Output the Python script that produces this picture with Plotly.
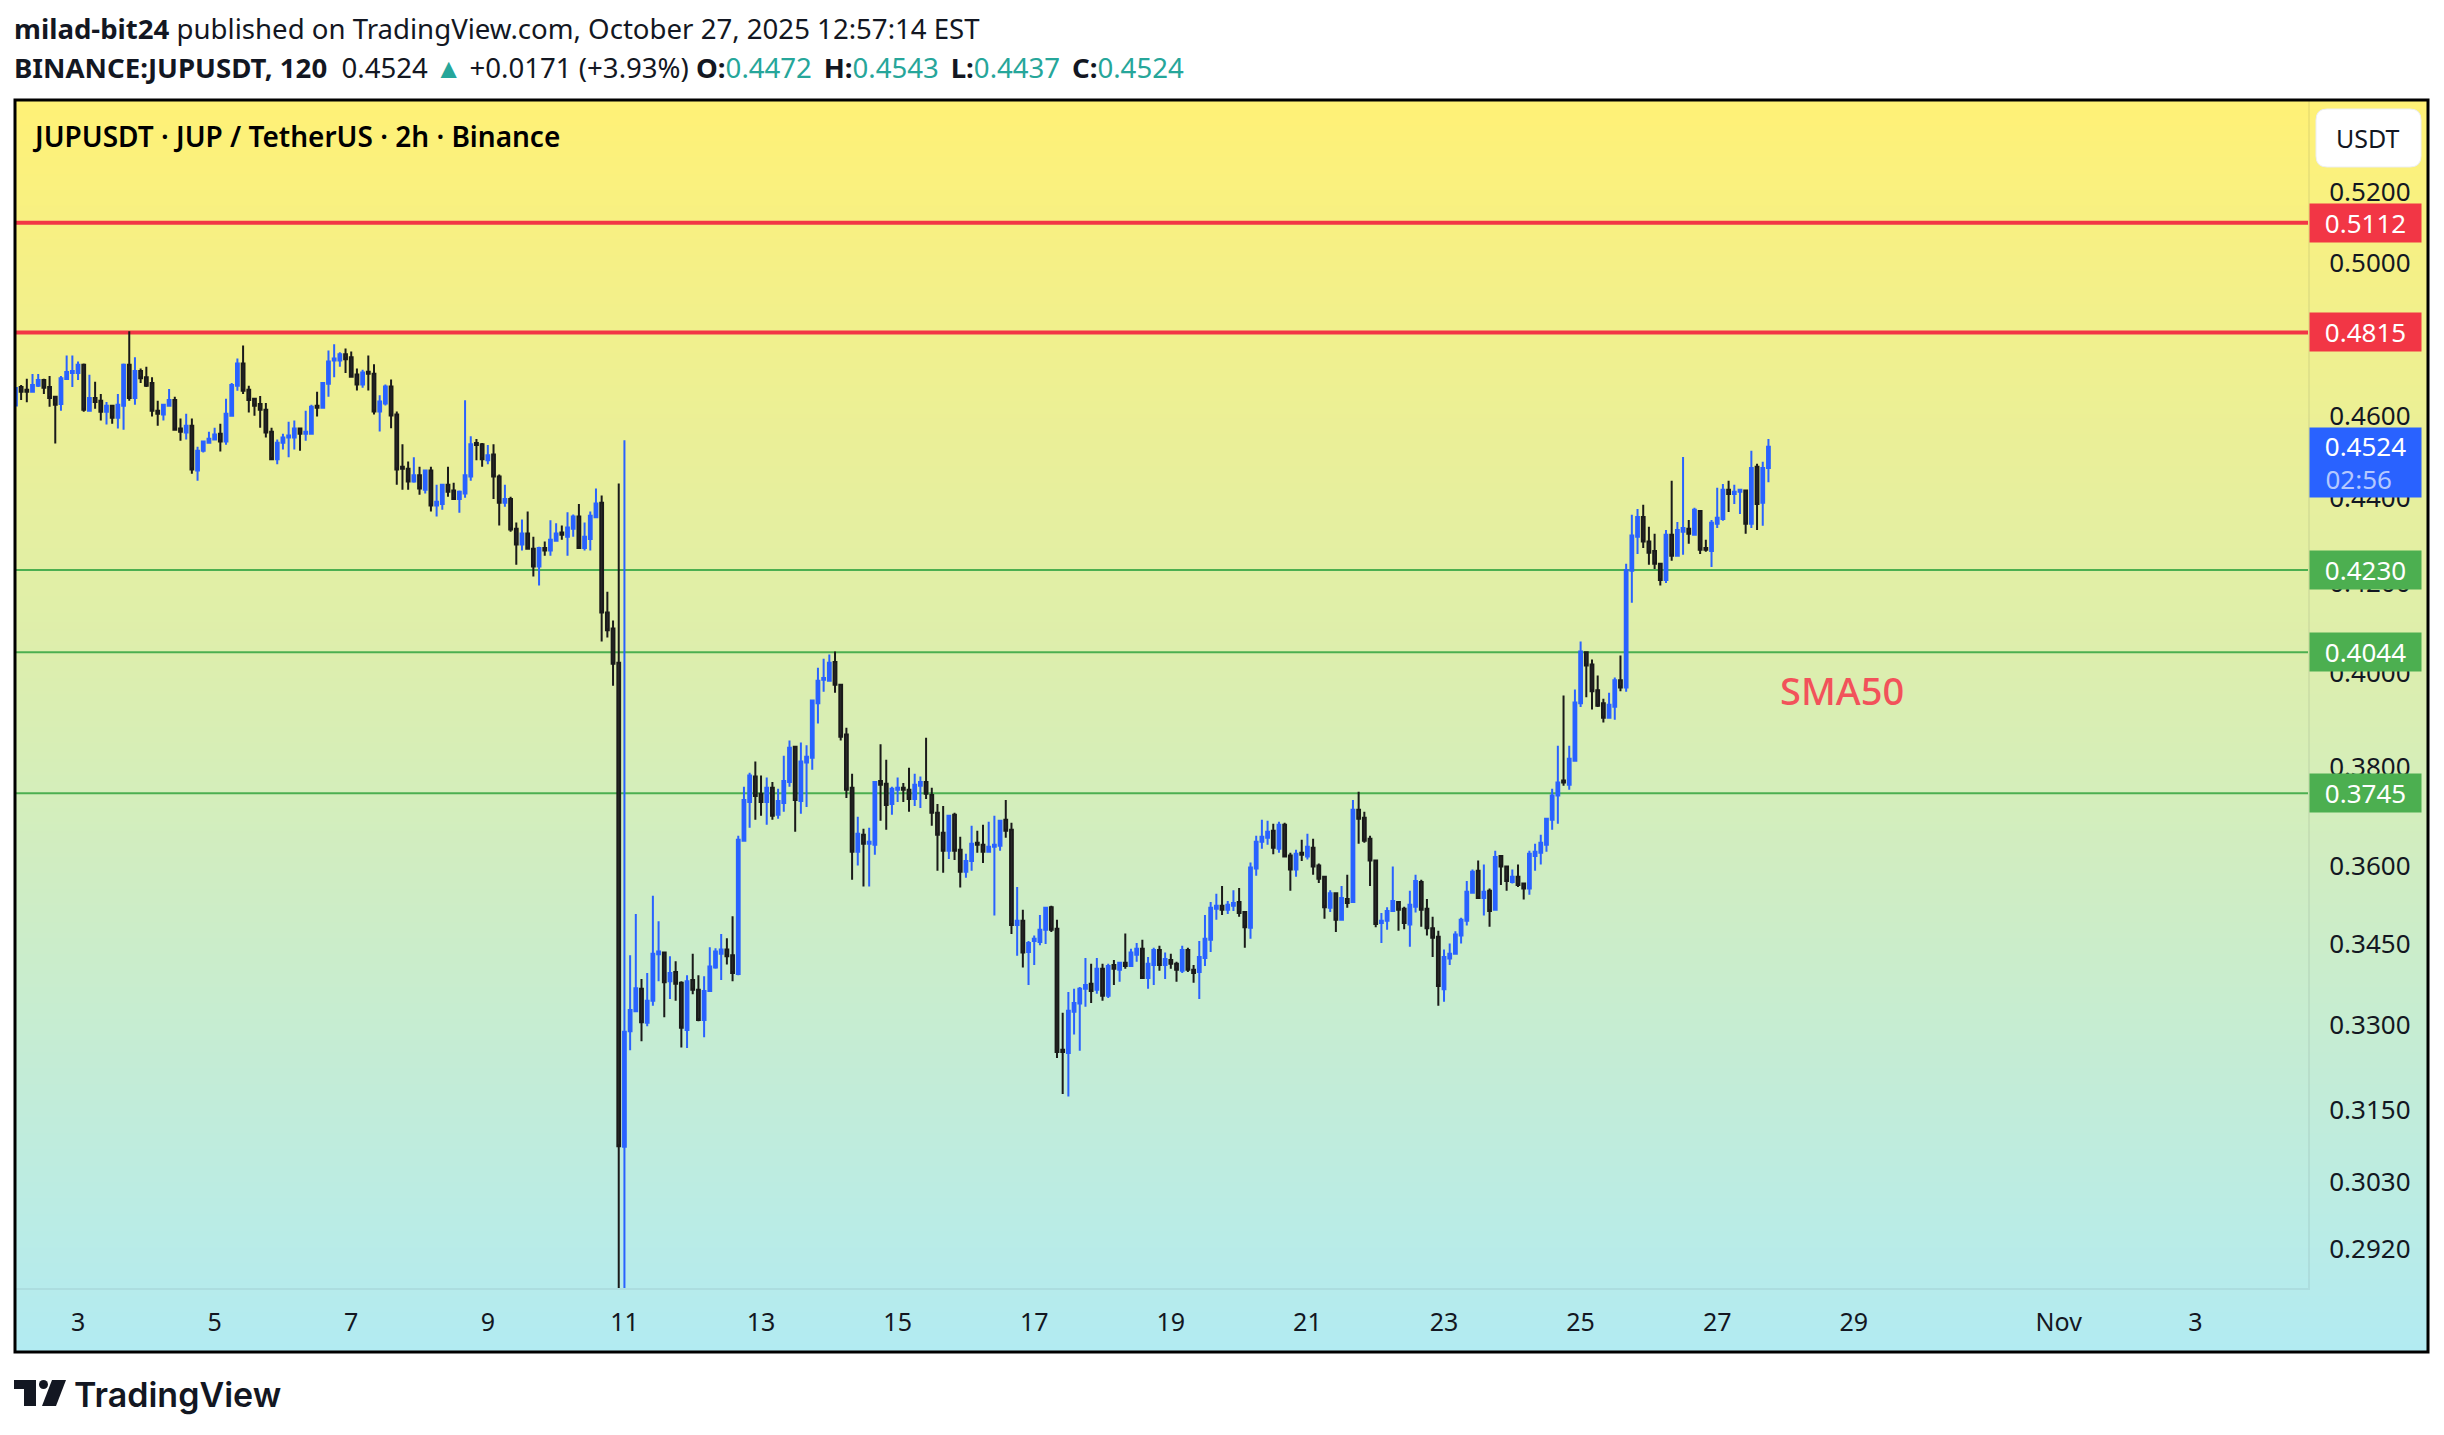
import math

import numpy as np
import pandas as pd
import plotly.graph_objects as go

# 2h bars, prices in 1/10000 USDT
opens = [
    4627, 4674, 4667, 4662, 4677, 4692, 4674, 4649, 4631, 4694,
    4710, 4710, 4731, 4614, 4646, 4639, 4611, 4626, 4596, 4626,
    4731, 4646, 4715, 4699, 4684, 4614, 4604, 4626, 4641, 4569,
    4559, 4576, 4466, 4514, 4534, 4542, 4556, 4537, 4601, 4677,
    4734, 4667, 4644, 4631, 4616, 4561, 4493, 4534, 4547, 4547,
    4569, 4556, 4556, 4626, 4621, 4682, 4742, 4742, 4758, 4750,
    4706, 4680, 4713, 4708, 4612, 4632, 4675, 4604, 4475, 4470,
    4439, 4454, 4419, 4466, 4381, 4385, 4431, 4417, 4397, 4410,
    4451, 4533, 4530, 4491, 4505, 4451, 4388, 4397, 4326, 4289,
    4315, 4279, 4238, 4281, 4275, 4298, 4317, 4307, 4326, 4355,
    4281, 4302, 4353, 4388, 4133, 4097, 4021, 3088, 3289, 3325,
    3366, 3304, 3344, 3430, 3433, 3380, 3397, 3377, 3291, 3382,
    3364, 3309, 3362, 3405, 3431, 3439, 3428, 3393, 3649, 3727,
    3779, 3744, 3727, 3756, 3701, 3725, 3768, 3841, 3729, 3808,
    3818, 3933, 3984, 3982, 4023, 3973, 3867, 3756, 3627, 3661,
    3643, 3641, 3770, 3764, 3723, 3752, 3756, 3752, 3733, 3760,
    3768, 3741, 3705, 3665, 3629, 3701, 3631, 3588, 3609, 3645,
    3641, 3627, 3637, 3639, 3691, 3671, 3485, 3493, 3434, 3455,
    3453, 3476, 3519, 3478, 3256, 3250, 3324, 3339, 3366, 3375,
    3364, 3403, 3353, 3410, 3401, 3414, 3408, 3429, 3440, 3386,
    3410, 3438, 3410, 3419, 3412, 3399, 3438, 3401, 3397, 3423,
    3457, 3516, 3522, 3514, 3522, 3529, 3510, 3480, 3594, 3647,
    3655, 3669, 3633, 3681, 3620, 3592, 3625, 3618, 3635, 3600,
    3578, 3518, 3546, 3495, 3535, 3529, 3711, 3695, 3653, 3610,
    3489, 3493, 3512, 3529, 3516, 3486, 3520, 3568, 3516, 3479,
    3463, 3365, 3422, 3431, 3465, 3493, 3547, 3590, 3537, 3551,
    3514, 3619, 3598, 3568, 3578, 3565, 3555, 3619, 3625, 3641,
    3691, 3740, 3771, 3762, 3812, 3933, 4044, 4017, 3961, 3933,
    3902, 3926, 3983, 3967, 4228, 4307, 4354, 4296, 4274, 4244,
    4207, 4312, 4263, 4319, 4326, 4312, 4368, 4281, 4274, 4338,
    4349, 4419, 4409, 4414, 4417, 4338, 4475, 4388, 4472,
]
highs = [
    4671, 4679, 4695, 4707, 4707, 4695, 4702, 4651, 4702, 4755,
    4755, 4739, 4734, 4705, 4687, 4656, 4636, 4626, 4656, 4734,
    4818, 4750, 4721, 4726, 4699, 4639, 4631, 4669, 4649, 4594,
    4606, 4594, 4524, 4539, 4561, 4571, 4581, 4644, 4684, 4747,
    4781, 4677, 4644, 4651, 4633, 4571, 4542, 4556, 4586, 4589,
    4571, 4614, 4629, 4662, 4684, 4768, 4784, 4763, 4773, 4765,
    4721, 4718, 4755, 4732, 4653, 4680, 4693, 4612, 4530, 4488,
    4498, 4475, 4468, 4475, 4431, 4431, 4475, 4436, 4417, 4640,
    4550, 4543, 4533, 4528, 4530, 4456, 4431, 4402, 4341, 4348,
    4367, 4307, 4284, 4296, 4346, 4339, 4334, 4365, 4360, 4385,
    4341, 4367, 4422, 4405, 4180, 4115, 4434, 4540, 3428, 3506,
    3384, 3395, 3541, 3492, 3435, 3426, 3417, 3380, 3391, 3431,
    3391, 3389, 3443, 3441, 3468, 3460, 3502, 3659, 3758, 3787,
    3810, 3781, 3777, 3768, 3754, 3822, 3854, 3841, 3850, 3844,
    3941, 4010, 4030, 4039, 4046, 3975, 3881, 3785, 3697, 3673,
    3675, 3770, 3846, 3814, 3758, 3777, 3766, 3797, 3785, 3779,
    3860, 3756, 3723, 3719, 3701, 3705, 3657, 3623, 3679, 3669,
    3681, 3687, 3699, 3691, 3731, 3685, 3558, 3514, 3455, 3465,
    3504, 3519, 3522, 3495, 3322, 3360, 3366, 3369, 3423, 3412,
    3423, 3412, 3412, 3419, 3414, 3469, 3440, 3451, 3457, 3425,
    3442, 3446, 3433, 3431, 3416, 3446, 3442, 3410, 3455, 3504,
    3529, 3545, 3560, 3531, 3552, 3556, 3510, 3606, 3659, 3691,
    3689, 3683, 3687, 3685, 3625, 3631, 3651, 3663, 3653, 3604,
    3580, 3552, 3546, 3560, 3582, 3731, 3748, 3707, 3659, 3610,
    3508, 3519, 3598, 3529, 3520, 3551, 3582, 3572, 3535, 3501,
    3474, 3439, 3450, 3473, 3499, 3570, 3592, 3610, 3602, 3555,
    3629, 3619, 3600, 3592, 3602, 3566, 3629, 3643, 3661, 3695,
    3754, 3843, 3950, 3843, 3963, 4068, 4046, 4028, 3993, 3943,
    3956, 3989, 4037, 4244, 4359, 4373, 4383, 4331, 4314, 4244,
    4323, 4441, 4342, 4499, 4347, 4376, 4368, 4300, 4347, 4424,
    4433, 4441, 4431, 4421, 4419, 4514, 4482, 4487, 4543,
]
lows = [
    4627, 4641, 4635, 4662, 4674, 4656, 4624, 4532, 4614, 4694,
    4674, 4692, 4611, 4614, 4619, 4589, 4579, 4581, 4569, 4566,
    4639, 4629, 4684, 4674, 4599, 4576, 4589, 4626, 4564, 4539,
    4542, 4458, 4441, 4510, 4534, 4542, 4512, 4529, 4599, 4664,
    4656, 4609, 4601, 4571, 4547, 4493, 4481, 4517, 4498, 4517,
    4514, 4539, 4556, 4599, 4621, 4649, 4699, 4726, 4710, 4700,
    4665, 4672, 4665, 4604, 4562, 4627, 4570, 4431, 4419, 4419,
    4436, 4407, 4410, 4367, 4355, 4371, 4402, 4395, 4364, 4400,
    4441, 4491, 4475, 4481, 4397, 4334, 4378, 4319, 4242, 4275,
    4277, 4215, 4194, 4263, 4263, 4298, 4300, 4263, 4307, 4281,
    4275, 4275, 4353, 4068, 4077, 3971, 2850, 2850, 3255, 3325,
    3271, 3298, 3335, 3380, 3314, 3347, 3344, 3260, 3259, 3356,
    3307, 3278, 3362, 3403, 3382, 3411, 3380, 3391, 3649, 3675,
    3691, 3699, 3681, 3691, 3693, 3707, 3758, 3667, 3703, 3717,
    3793, 3890, 3958, 3982, 3956, 3854, 3735, 3572, 3600, 3559,
    3559, 3621, 3689, 3671, 3701, 3727, 3727, 3707, 3719, 3715,
    3733, 3679, 3590, 3586, 3613, 3611, 3557, 3576, 3590, 3625,
    3605, 3625, 3503, 3629, 3655, 3468, 3427, 3405, 3373, 3410,
    3447, 3449, 3472, 3241, 3178, 3174, 3283, 3254, 3333, 3340,
    3357, 3344, 3349, 3373, 3379, 3403, 3406, 3416, 3384, 3366,
    3373, 3399, 3384, 3403, 3379, 3395, 3397, 3377, 3347, 3408,
    3434, 3495, 3504, 3506, 3512, 3501, 3442, 3459, 3580, 3633,
    3641, 3622, 3625, 3618, 3551, 3578, 3609, 3612, 3582, 3566,
    3497, 3510, 3472, 3495, 3518, 3529, 3643, 3645, 3560, 3481,
    3451, 3476, 3512, 3474, 3477, 3444, 3509, 3482, 3465, 3425,
    3335, 3342, 3410, 3431, 3450, 3484, 3547, 3537, 3503, 3482,
    3514, 3562, 3551, 3565, 3558, 3534, 3543, 3590, 3602, 3627,
    3671, 3683, 3760, 3752, 3812, 3925, 3946, 3920, 3925, 3892,
    3902, 3898, 3959, 3958, 4155, 4267, 4281, 4242, 4232, 4194,
    4200, 4251, 4263, 4265, 4291, 4312, 4267, 4272, 4237, 4328,
    4345, 4366, 4385, 4361, 4314, 4328, 4323, 4333, 4437,
]
closes = [
    4671, 4662, 4662, 4679, 4692, 4672, 4646, 4629, 4696, 4712,
    4715, 4731, 4616, 4646, 4636, 4611, 4626, 4596, 4629, 4731,
    4646, 4715, 4696, 4677, 4614, 4606, 4629, 4641, 4566, 4561,
    4576, 4468, 4514, 4537, 4544, 4554, 4537, 4606, 4679, 4734,
    4664, 4641, 4626, 4616, 4559, 4493, 4534, 4547, 4552, 4569,
    4556, 4561, 4624, 4621, 4684, 4739, 4747, 4758, 4745, 4700,
    4680, 4711, 4708, 4612, 4637, 4675, 4602, 4468, 4470, 4439,
    4454, 4422, 4466, 4381, 4390, 4431, 4414, 4397, 4414, 4454,
    4530, 4528, 4493, 4503, 4451, 4388, 4397, 4324, 4289, 4315,
    4279, 4238, 4281, 4275, 4300, 4315, 4312, 4329, 4355, 4281,
    4307, 4357, 4386, 4133, 4093, 4019, 3089, 3288, 3327, 3367,
    3305, 3344, 3431, 3435, 3378, 3395, 3375, 3295, 3380, 3364,
    3309, 3362, 3407, 3435, 3439, 3426, 3395, 3651, 3731, 3781,
    3739, 3727, 3756, 3699, 3729, 3770, 3839, 3731, 3810, 3820,
    3939, 3982, 3988, 4021, 3973, 3862, 3752, 3627, 3663, 3643,
    3647, 3768, 3762, 3721, 3754, 3756, 3752, 3733, 3762, 3768,
    3744, 3705, 3661, 3629, 3699, 3629, 3588, 3609, 3643, 3641,
    3627, 3637, 3641, 3689, 3669, 3485, 3493, 3433, 3451, 3459,
    3476, 3518, 3476, 3252, 3252, 3326, 3340, 3366, 3373, 3362,
    3403, 3353, 3408, 3403, 3414, 3408, 3433, 3440, 3386, 3412,
    3438, 3410, 3421, 3412, 3401, 3438, 3401, 3395, 3425, 3459,
    3518, 3522, 3514, 3524, 3527, 3508, 3481, 3596, 3647, 3657,
    3667, 3635, 3681, 3618, 3592, 3623, 3621, 3637, 3598, 3574,
    3519, 3546, 3495, 3537, 3527, 3711, 3693, 3649, 3610, 3487,
    3493, 3512, 3531, 3514, 3489, 3524, 3570, 3514, 3479, 3461,
    3371, 3425, 3431, 3467, 3495, 3549, 3588, 3537, 3549, 3512,
    3617, 3598, 3570, 3578, 3562, 3555, 3623, 3627, 3645, 3693,
    3740, 3767, 3767, 3816, 3935, 4046, 4015, 3959, 3928, 3902,
    3930, 3983, 3967, 4230, 4310, 4354, 4296, 4270, 4244, 4207,
    4312, 4263, 4323, 4328, 4314, 4371, 4277, 4277, 4340, 4352,
    4419, 4409, 4414, 4419, 4338, 4472, 4385, 4472, 4524,
]

price_ticks = [0.52, 0.50, 0.46, 0.44, 0.42, 0.40, 0.38, 0.36, 0.345, 0.33, 0.315, 0.303, 0.292]
price_labels = ["0.5200", "0.5000", "0.4600", "0.4400", "0.4200", "0.4000", "0.3800",
                "0.3600", "0.3450", "0.3300", "0.3150", "0.3030", "0.2920"]
date_ticks = ["2025-10-03", "2025-10-05", "2025-10-07", "2025-10-09", "2025-10-11", "2025-10-13",
              "2025-10-15", "2025-10-17", "2025-10-19", "2025-10-21", "2025-10-23", "2025-10-25",
              "2025-10-27", "2025-10-29", "2025-11-01", "2025-11-03"]
date_labels = ["3", "5", "7", "9", "11", "13", "15", "17", "19", "21", "23", "25", "27", "29", "Nov", "3"]

red_levels = [0.5112, 0.4815]
green_levels = [0.4230, 0.4044, 0.3745]
last_price = 0.4524

W, H = 2444, 1435
INK = "#131722"
BLUE = "#2962ff"
RED = "#f23645"
GREEN = "#4caf50"
TEAL = "#26a69a"


def px(x):
    return x / W


def py(y):
    return 1 - y / H


times = pd.date_range(end="2025-10-27 18:00", periods=len(closes), freq="2h")
x_start = pd.Timestamp("2025-10-02 02:12")
x_end = pd.Timestamp("2025-11-04 15:36")

fig = go.Figure()

# background gradient fills the whole frame, candles sit on an axis pair above it
fig.add_trace(go.Heatmap(
    x=[0, 1], y=[0, 1], z=[[0, 0], [1, 1]], zsmooth="best", showscale=False, hoverinfo="skip",
    colorscale=[[0, "#b2ebf2"], [1, "#fff176"]], xaxis="x", yaxis="y",
))

fig.add_trace(go.Candlestick(
    x=times,
    open=np.array(opens) / 10000,
    high=np.array(highs) / 10000,
    low=np.array(lows) / 10000,
    close=np.array(closes) / 10000,
    xaxis="x2", yaxis="y2", showlegend=False, hoverinfo="skip", whiskerwidth=0,
    increasing=dict(line=dict(color=BLUE, width=2), fillcolor=BLUE),
    decreasing=dict(line=dict(color="#1a1a1a", width=2), fillcolor="#2c2c2c"),
))

shapes = []
for level in red_levels:
    shapes.append(dict(type="line", xref="x2", yref="y2", x0=x_start, x1=x_end, y0=level, y1=level,
                       line=dict(color=RED, width=4), layer="below"))
for level in green_levels:
    shapes.append(dict(type="line", xref="x2", yref="y2", x0=x_start, x1=x_end, y0=level, y1=level,
                       line=dict(color=GREEN, width=2), layer="below"))

# frame
shapes.append(dict(type="rect", xref="paper", yref="paper", x0=px(15), x1=px(2428), y0=py(100), y1=py(1352),
                   line=dict(color="#000000", width=3), layer="above"))


def rounded_path(x0, y0, x1, y1, r):
    return (f"M {px(x0 + r)} {py(y0)} L {px(x1 - r)} {py(y0)} Q {px(x1)} {py(y0)} {px(x1)} {py(y0 + r)} "
            f"L {px(x1)} {py(y1 - r)} Q {px(x1)} {py(y1)} {px(x1 - r)} {py(y1)} "
            f"L {px(x0 + r)} {py(y1)} Q {px(x0)} {py(y1)} {px(x0)} {py(y1 - r)} "
            f"L {px(x0)} {py(y0 + r)} Q {px(x0)} {py(y0)} {px(x0 + r)} {py(y0)} Z")


# USDT button
shapes.append(dict(type="path", xref="paper", yref="paper", path=rounded_path(2316, 109, 2421, 167, 11),
                   fillcolor="#ffffff", line=dict(color="#eceef2", width=1), layer="above"))

# TradingView logo
logo_parts = [
    [(14, 1380), (36, 1380), (36, 1406), (24, 1406), (24, 1389), (14, 1389)],
    [(52, 1380), (66, 1380), (56, 1406), (42, 1406)],
]
for part in logo_parts:
    path = "M " + " L ".join(f"{px(a)} {py(b)}" for a, b in part) + " Z"
    shapes.append(dict(type="path", xref="paper", yref="paper", path=path, fillcolor=INK, line=dict(width=0)))
shapes.append(dict(type="circle", xref="paper", yref="paper", x0=px(39), x1=px(48), y0=py(1380), y1=py(1389),
                   fillcolor=INK, line=dict(width=0)))

annotations = []


def add_text(text, x, y, size, color=INK, family="Noto Sans", anchor="left", weight=None):
    annotations.append(dict(
        text=text, x=px(x), y=py(y), xref="paper", yref="paper", xanchor=anchor, yanchor="middle",
        showarrow=False, font=dict(family=family, size=size, color=color, weight=weight),
    ))


add_text("<b>milad-bit24</b> published on TradingView.com, October 27, 2025 12:57:14 EST", 12, 28, 27.6)
add_text(f"<b>BINANCE:JUPUSDT, 120</b>\u00a0 0.4524 <span style='color:{TEAL}'>▲</span> +0.0171 (+3.93%) "
         f"<b>O:</b><span style='color:{TEAL}'>0.4472</span>\u2009 <b>H:</b><span style='color:{TEAL}'>0.4543</span>\u2009 "
         f"<b>L:</b><span style='color:{TEAL}'>0.4437</span>\u2009 <b>C:</b><span style='color:{TEAL}'>0.4524</span>",
         12, 67, 27.6)
add_text("JUPUSDT · JUP / TetherUS · 2h · Binance", 30, 136, 28, color="#000000", weight=600)
add_text("USDT", 2368, 138, 25, anchor="center")
add_text("TradingView", 72, 1394, 34, family="Inter", weight=600)


def add_level_label(level, color):
    annotations.append(dict(
        text=f"{level:.4f}", x=px(2309), y=math.log10(level), xref="paper", yref="y2",
        xanchor="left", yanchor="middle", showarrow=False, bgcolor=color, width=111, height=38,
        borderpad=0, align="center", font=dict(family="Noto Sans", size=26, color="#ffffff"),
    ))


for level in red_levels:
    add_level_label(level, RED)
for level in green_levels:
    add_level_label(level, GREEN)

annotations.append(dict(
    text=f"{last_price:.4f}<br><span style='color:#b4c8ff'>02:56\u00a0\u00a0</span>",
    x=px(2309), y=py(462), xref="paper", yref="paper", xanchor="left", yanchor="middle",
    showarrow=False, bgcolor=BLUE, width=111, height=69, borderpad=0, align="center",
    font=dict(family="Noto Sans", size=26, color="#ffffff"),
))

annotations.append(dict(
    text="SMA50", x=pd.Timestamp("2025-10-28 20:00"), y=math.log10(0.3961), xref="x2", yref="y2",
    showarrow=False, font=dict(family="Noto Sans", size=38, color="#f2525a", weight=500),
))

fig.update_layout(
    width=W, height=H, margin=dict(l=0, r=0, t=0, b=0), paper_bgcolor="#ffffff", plot_bgcolor="rgba(0,0,0,0)",
    showlegend=False, shapes=shapes, annotations=annotations, dragmode=False,
    xaxis=dict(domain=[px(15), px(2428)], range=[0, 1], visible=False, fixedrange=True),
    yaxis=dict(domain=[py(1352), py(100)], range=[0, 1], visible=False, fixedrange=True),
    xaxis2=dict(
        domain=[px(16), px(2308)], anchor="y2", type="date", range=[x_start, x_end],
        rangeslider=dict(visible=False), showgrid=False, zeroline=False,
        tickmode="array", tickvals=date_ticks, ticktext=date_labels,
        tickfont=dict(family="Noto Sans", size=25, color=INK),
        ticks="outside", ticklen=11, tickcolor="rgba(0,0,0,0)",
        showline=True, linecolor="rgba(42,46,57,0.07)", linewidth=2, fixedrange=True,
    ),
    yaxis2=dict(
        domain=[py(1288), py(100)], anchor="x2", side="right", type="log",
        range=[math.log10(0.2859), math.log10(0.5466)], showgrid=False, zeroline=False,
        tickmode="array", tickvals=price_ticks, ticktext=price_labels,
        tickfont=dict(family="Noto Sans", size=26, color=INK),
        ticks="outside", ticklen=14, tickcolor="rgba(0,0,0,0)",
        showline=True, linecolor="rgba(42,46,57,0.07)", linewidth=2, fixedrange=True,
    ),
)

fig.write_html("out.html", config={"displayModeBar": False}, post_script="document.body.style.margin='0';")
